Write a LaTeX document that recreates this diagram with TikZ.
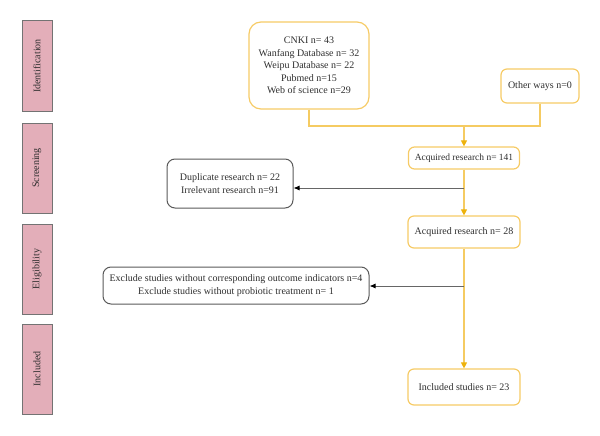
\documentclass[tikz,border=0pt]{standalone}
\usepackage{fontspec}
\setmainfont{Liberation Serif}
\usetikzlibrary{arrows.meta}
\definecolor{boxyellow}{HTML}{F6CB66}
\definecolor{lineyellow}{HTML}{F5CB62}
\definecolor{tipyellow}{HTML}{EDB20C}
\definecolor{stagepink}{HTML}{E3AEB9}
\definecolor{textgray}{HTML}{2E2E2E}
\tikzset{
  flowbox/.style={draw=boxyellow, line width=1.2pt, rounded corners=6pt, align=center,
    inner sep=2pt, text=textgray, font=\fontsize{10}{12.5}\selectfont},
  dropbox/.style={draw=black!65, line width=1pt, rounded corners=8pt, align=center,
    inner sep=2pt, text=textgray, font=\fontsize{10}{12.5}\selectfont},
  stagebox/.style={draw=black!55, fill=stagepink, line width=1pt, rotate=90,
    minimum width=90pt, minimum height=30pt, text=textgray, font=\fontsize{10}{11}\selectfont},
  flowline/.style={lineyellow, line width=1.1pt},
  flowarrow/.style={lineyellow, line width=1.1pt, -{Triangle[length=6pt,width=6pt,color=tipyellow]}},
  droparrow/.style={black!60, line width=0.9pt, -{Latex[length=6pt,width=5pt,color=black]}}
}
\begin{document}
\begin{tikzpicture}[x=1pt,y=1pt]
    \useasboundingbox (0,0) rectangle (600,-436);
    % stage labels
    \node[stagebox] (ident) at (37,-66) {Identification};
    \node[stagebox] (screen) at (37,-168) {Screening};
    \node[stagebox] (elig) at (37,-269) {Eligibility};
    \node[stagebox] (incl) at (37,-369) {Included};
    % flow boxes
    \node[flowbox, rounded corners=12pt, minimum width=120pt, minimum height=87pt] (db) at (309,-65.5)
      {CNKI n= 43\\Wanfang Database n= 32\\Weipu Database n= 22\\Pubmed n=15\\Web of science n=29};
    \node[flowbox, minimum width=78pt, minimum height=34pt] (other) at (540,-86) {Other ways n=0};
    \node[flowbox, minimum width=111pt, minimum height=22pt, font=\fontsize{9.5}{11}\selectfont] (acq1) at (464,-158) {Acquired research n= 141};
    \node[flowbox, minimum width=112pt, minimum height=32pt] (acq2) at (464,-232) {Acquired research n= 28};
    \node[flowbox, minimum width=112pt, minimum height=36pt] (study) at (464,-387) {Included studies n= 23};
    % excluded boxes
    \node[dropbox, minimum width=126pt, minimum height=49pt] (dup) at (230,-183.5)
      {Duplicate research n= 22\\Irrelevant research n=91};
    \node[dropbox, minimum width=266pt, minimum height=37pt] (excl) at (236,-285.5)
      {Exclude studies without corresponding outcome indicators n=4\\Exclude studies without probiotic treatment n= 1};
    % connectors
    \coordinate (join) at (464,-126);
    \coordinate (cut1) at (464,-188);
    \coordinate (cut2) at (464,-286);
    \draw[flowline] (db.south) |- (join);
    \draw[flowline] (other.south) |- (join);
    \draw[flowarrow] (join) -- (acq1.north);
    \draw[flowarrow] (acq1.south) -- (acq2.north);
    \draw[flowarrow] (acq2.south) -- (study.north);
    \draw[droparrow] (cut1) -- (cut1 -| dup.east);
    \draw[droparrow] (cut2) -- (cut2 -| excl.east);
\end{tikzpicture}
\end{document}
